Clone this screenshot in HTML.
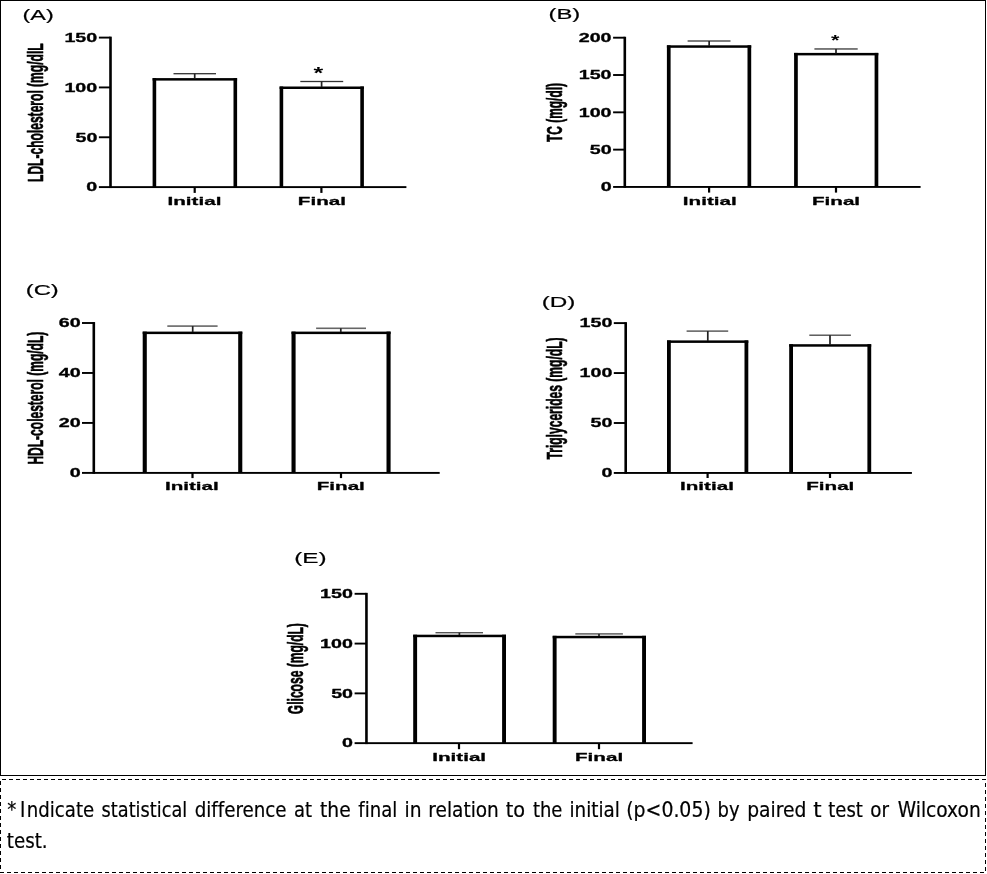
<!DOCTYPE html>
<html lang="en">
<head>
<meta charset="utf-8">
<title>Figure: lipid profile and glucose, initial vs final</title>
<style>
html,body{margin:0;padding:0;background:#fff;}
body{width:987px;height:874px;overflow:hidden;}
svg{display:block;filter:grayscale(1);}
text{fill:#000;}
.b{font-family:'Liberation Sans', sans-serif;font-weight:bold;stroke:#000;stroke-width:0.4px;vector-effect:non-scaling-stroke;stroke-linejoin:round;}
.yl{stroke-width:0.5px;}
.r{font-family:'Liberation Sans', sans-serif;font-weight:normal;stroke:#000;stroke-width:0.25px;vector-effect:non-scaling-stroke;}
.ast{stroke:none;}
.c{font-family:'DejaVu Sans Condensed', 'DejaVu Sans', 'Liberation Sans', sans-serif;font-weight:normal;font-variant-ligatures:none;stroke:#000;stroke-width:0.2px;vector-effect:non-scaling-stroke;}
</style>
</head>
<body>
<svg width="987" height="874" viewBox="0 0 987 874">
<defs><filter id="soft" x="0" y="0" width="987" height="776" filterUnits="userSpaceOnUse"><feGaussianBlur stdDeviation="0.35"/></filter></defs>
<rect x="0" y="0" width="987" height="874" fill="#fff"/>
<g filter="url(#soft)">
<g>
<rect x="152.6" y="78.1" width="3.6" height="109" fill="#000"/>
<rect x="233.5" y="78.1" width="3.6" height="109" fill="#000"/>
<rect x="152.6" y="78.1" width="84.5" height="2.5" fill="#000"/>
<rect x="279.6" y="86.5" width="3.6" height="100.6" fill="#000"/>
<rect x="360.3" y="86.5" width="3.6" height="100.6" fill="#000"/>
<rect x="279.6" y="86.5" width="84.3" height="2.5" fill="#000"/>
<rect x="173.5" y="73.05" width="42.5" height="1.3" fill="#333"/>
<rect x="193.85" y="73.7" width="1.7" height="4.8" fill="#222"/>
<rect x="300.3" y="80.85" width="42.9" height="1.3" fill="#333"/>
<rect x="320.75" y="81.5" width="1.7" height="5.5" fill="#222"/>
<rect x="109.2" y="36.65" width="2.6" height="151.4" fill="#000"/>
<rect x="110.5" y="186.15" width="295.9" height="1.9" fill="#000"/>
<rect x="98.9" y="36.65" width="11.6" height="1.9" fill="#000"/>
<text class="b" font-size="12.3" transform="translate(64.42 41.94) scale(1.6000 1)">150</text>
<rect x="98.9" y="86.48" width="11.6" height="1.9" fill="#000"/>
<text class="b" font-size="12.3" transform="translate(64.42 91.78) scale(1.6000 1)">100</text>
<rect x="98.9" y="136.32" width="11.6" height="1.9" fill="#000"/>
<text class="b" font-size="12.3" transform="translate(75.44 141.61) scale(1.6000 1)">50</text>
<rect x="98.9" y="186.15" width="11.6" height="1.9" fill="#000"/>
<text class="b" font-size="12.3" transform="translate(86.36 191.44) scale(1.6000 1)">0</text>
<rect x="193.6" y="187.1" width="2.2" height="5.8" fill="#000"/>
<rect x="320.3" y="187.1" width="2.2" height="5.8" fill="#000"/>
<text class="b" font-size="11.6" transform="translate(167.51 204.8) scale(1.7800 1)">Initial</text>
<text class="b" font-size="11.6" transform="translate(297.85 204.8) scale(1.7800 1)">Final</text>
<text class="r" font-size="14.12" transform="translate(22.5 19.74) scale(1.6567 1)">(A)</text>
<text class="b yl" font-size="12" transform="translate(43.33 181.98) rotate(-90) scale(1.0047 1.7730)">LDL-cholesterol (mg/dlL</text>
<text class="b ast" font-size="15.68" transform="translate(313.38 78.92) scale(1.5948 1)">*</text>
</g>
<g>
<rect x="666.9" y="45.3" width="3.7" height="141.65" fill="#000"/>
<rect x="747.5" y="45.3" width="3.7" height="141.65" fill="#000"/>
<rect x="666.9" y="45.3" width="84.3" height="2.5" fill="#000"/>
<rect x="794.1" y="52.9" width="3.7" height="134.05" fill="#000"/>
<rect x="874.6" y="52.9" width="3.7" height="134.05" fill="#000"/>
<rect x="794.1" y="52.9" width="84.2" height="2.5" fill="#000"/>
<rect x="687.6" y="40.1" width="42.9" height="1.8" fill="#707070"/>
<rect x="708.3" y="41" width="1.7" height="5" fill="#222"/>
<rect x="814.4" y="48.05" width="43.3" height="1.8" fill="#707070"/>
<rect x="835.15" y="48.95" width="1.7" height="4.55" fill="#222"/>
<rect x="623.5" y="36.75" width="2.6" height="151.15" fill="#000"/>
<rect x="624.8" y="186" width="295.8" height="1.9" fill="#000"/>
<rect x="613.1" y="36.75" width="11.7" height="1.9" fill="#000"/>
<text class="b" font-size="12.3" transform="translate(578.72 42.04) scale(1.6000 1)">200</text>
<rect x="613.1" y="74.06" width="11.7" height="1.9" fill="#000"/>
<text class="b" font-size="12.3" transform="translate(578.72 79.36) scale(1.6000 1)">150</text>
<rect x="613.1" y="111.38" width="11.7" height="1.9" fill="#000"/>
<text class="b" font-size="12.3" transform="translate(578.72 116.67) scale(1.6000 1)">100</text>
<rect x="613.1" y="148.69" width="11.7" height="1.9" fill="#000"/>
<text class="b" font-size="12.3" transform="translate(589.74 153.98) scale(1.6000 1)">50</text>
<rect x="613.1" y="186" width="11.7" height="1.9" fill="#000"/>
<text class="b" font-size="12.3" transform="translate(600.66 191.29) scale(1.6000 1)">0</text>
<rect x="708" y="186.95" width="2.2" height="5.65" fill="#000"/>
<rect x="834.9" y="186.95" width="2.2" height="5.65" fill="#000"/>
<text class="b" font-size="11.6" transform="translate(682.86 204.5) scale(1.7800 1)">Initial</text>
<text class="b" font-size="11.6" transform="translate(811.95 204.5) scale(1.7800 1)">Final</text>
<text class="r" font-size="14.22" transform="translate(548.47 18.51) scale(1.6791 1)">(B)</text>
<text class="b yl" font-size="12" transform="translate(562.07 142.02) rotate(-90) scale(0.9945 1.8706)">TC (mg/dl)</text>
<text class="b ast" font-size="13.78" transform="translate(830.99 45.41) scale(1.5655 1)">*</text>
</g>
<g>
<rect x="142.7" y="331.6" width="4.1" height="141.3" fill="#000"/>
<rect x="238.2" y="331.6" width="4.1" height="141.3" fill="#000"/>
<rect x="142.7" y="331.6" width="99.6" height="2.5" fill="#000"/>
<rect x="291.5" y="331.6" width="4.1" height="141.3" fill="#000"/>
<rect x="386.5" y="331.6" width="4.1" height="141.3" fill="#000"/>
<rect x="291.5" y="331.6" width="99.1" height="2.5" fill="#000"/>
<rect x="167.3" y="325.3" width="50.3" height="1.6" fill="#666"/>
<rect x="191.85" y="326.1" width="1.7" height="5.9" fill="#222"/>
<rect x="316.1" y="327.5" width="49.9" height="1.6" fill="#666"/>
<rect x="339.95" y="328.3" width="1.7" height="3.7" fill="#222"/>
<rect x="92.5" y="322.05" width="2.6" height="151.8" fill="#000"/>
<rect x="93.8" y="471.95" width="345.9" height="1.9" fill="#000"/>
<rect x="82" y="322.05" width="11.8" height="1.9" fill="#000"/>
<text class="b" font-size="12.3" transform="translate(58.74 327.34) scale(1.6000 1)">60</text>
<rect x="82" y="372.02" width="11.8" height="1.9" fill="#000"/>
<text class="b" font-size="12.3" transform="translate(58.74 377.31) scale(1.6000 1)">40</text>
<rect x="82" y="421.98" width="11.8" height="1.9" fill="#000"/>
<text class="b" font-size="12.3" transform="translate(58.74 427.28) scale(1.6000 1)">20</text>
<rect x="82" y="471.95" width="11.8" height="1.9" fill="#000"/>
<text class="b" font-size="12.3" transform="translate(69.66 477.24) scale(1.6000 1)">0</text>
<rect x="191.4" y="472.9" width="2.2" height="5.2" fill="#000"/>
<rect x="339.9" y="472.9" width="2.2" height="5.2" fill="#000"/>
<text class="b" font-size="11.6" transform="translate(164.91 490.3) scale(1.7800 1)">Initial</text>
<text class="b" font-size="11.6" transform="translate(316.7 490.3) scale(1.7800 1)">Final</text>
<text class="r" font-size="13.9" transform="translate(25.77 295.38) scale(1.7114 1)">(C)</text>
<text class="b yl" font-size="12" transform="translate(43.4 464.58) rotate(-90) scale(1.0024 1.7819)">HDL-colesterol (mg/dL)</text>
</g>
<g>
<rect x="667" y="340.4" width="3.8" height="132.55" fill="#000"/>
<rect x="744.5" y="340.4" width="3.8" height="132.55" fill="#000"/>
<rect x="667" y="340.4" width="81.3" height="2.5" fill="#000"/>
<rect x="789.2" y="344.2" width="3.8" height="128.75" fill="#000"/>
<rect x="867.4" y="344.2" width="3.8" height="128.75" fill="#000"/>
<rect x="789.2" y="344.2" width="82" height="2.5" fill="#000"/>
<rect x="686.6" y="330.45" width="41.6" height="1.3" fill="#444"/>
<rect x="706.95" y="331.1" width="1.7" height="9.9" fill="#222"/>
<rect x="809.3" y="334.55" width="41.6" height="1.3" fill="#444"/>
<rect x="829.15" y="335.2" width="1.7" height="9.8" fill="#222"/>
<rect x="624.4" y="322.15" width="2.6" height="151.75" fill="#000"/>
<rect x="625.7" y="472" width="286.2" height="1.9" fill="#000"/>
<rect x="613.8" y="322.15" width="11.9" height="1.9" fill="#000"/>
<text class="b" font-size="12.3" transform="translate(579.52 327.44) scale(1.6000 1)">150</text>
<rect x="613.8" y="372.1" width="11.9" height="1.9" fill="#000"/>
<text class="b" font-size="12.3" transform="translate(579.52 377.39) scale(1.6000 1)">100</text>
<rect x="613.8" y="422.05" width="11.9" height="1.9" fill="#000"/>
<text class="b" font-size="12.3" transform="translate(590.54 427.34) scale(1.6000 1)">50</text>
<rect x="613.8" y="472" width="11.9" height="1.9" fill="#000"/>
<text class="b" font-size="12.3" transform="translate(601.46 477.29) scale(1.6000 1)">0</text>
<rect x="706.5" y="472.95" width="2.2" height="5.05" fill="#000"/>
<rect x="828.9" y="472.95" width="2.2" height="5.05" fill="#000"/>
<text class="b" font-size="11.6" transform="translate(680.01 490.3) scale(1.7800 1)">Initial</text>
<text class="b" font-size="11.6" transform="translate(806.2 490.3) scale(1.7800 1)">Final</text>
<text class="r" font-size="14.12" transform="translate(541.64 306.54) scale(1.7190 1)">(D)</text>
<text class="b yl" font-size="12" transform="translate(562.32 459.52) rotate(-90) scale(1.0070 1.8528)">Triglycerides (mg/dL)</text>
</g>
<g>
<rect x="413.2" y="634.7" width="3.9" height="108.45" fill="#000"/>
<rect x="502.1" y="634.7" width="3.9" height="108.45" fill="#000"/>
<rect x="413.2" y="634.7" width="92.8" height="2.5" fill="#000"/>
<rect x="552.7" y="635.8" width="3.9" height="107.35" fill="#000"/>
<rect x="642.1" y="635.8" width="3.9" height="107.35" fill="#000"/>
<rect x="552.7" y="635.8" width="93.3" height="2.5" fill="#000"/>
<rect x="435.5" y="632" width="47.5" height="1.4" fill="#555"/>
<rect x="458.55" y="632.7" width="1.7" height="2.3" fill="#222"/>
<rect x="575.3" y="633.2" width="47.6" height="1.4" fill="#555"/>
<rect x="598.15" y="633.9" width="1.7" height="2.1" fill="#222"/>
<rect x="365.15" y="592.85" width="2.6" height="151.25" fill="#000"/>
<rect x="366.45" y="742.2" width="326.15" height="1.9" fill="#000"/>
<rect x="354.6" y="592.85" width="11.85" height="1.9" fill="#000"/>
<text class="b" font-size="12.3" transform="translate(320.12 598.14) scale(1.6000 1)">150</text>
<rect x="354.6" y="642.63" width="11.85" height="1.9" fill="#000"/>
<text class="b" font-size="12.3" transform="translate(320.12 647.93) scale(1.6000 1)">100</text>
<rect x="354.6" y="692.42" width="11.85" height="1.9" fill="#000"/>
<text class="b" font-size="12.3" transform="translate(331.14 697.71) scale(1.6000 1)">50</text>
<rect x="354.6" y="742.2" width="11.85" height="1.9" fill="#000"/>
<text class="b" font-size="12.3" transform="translate(342.06 747.49) scale(1.6000 1)">0</text>
<rect x="457.9" y="743.15" width="2.2" height="6.05" fill="#000"/>
<rect x="597.9" y="743.15" width="2.2" height="6.05" fill="#000"/>
<text class="b" font-size="11.6" transform="translate(432.21 761) scale(1.7800 1)">Initial</text>
<text class="b" font-size="11.6" transform="translate(575 761) scale(1.7800 1)">Final</text>
<text class="r" font-size="13.8" transform="translate(294.14 562.6) scale(1.7611 1)">(E)</text>
<text class="b yl" font-size="12" transform="translate(303.22 714.18) rotate(-90) scale(1.0047 1.8528)">Glicose (mg/dL)</text>
</g>
</g>
<g>
<text class="c" font-size="21" y="816.8"><tspan x="7.3" textLength="9.07" lengthAdjust="spacingAndGlyphs">*</tspan><tspan x="20.09" textLength="5.34" lengthAdjust="spacingAndGlyphs">I</tspan><tspan x="26.79" textLength="67.4" lengthAdjust="spacingAndGlyphs">ndicate</tspan> <tspan x="101.61" textLength="85.61" lengthAdjust="spacingAndGlyphs">statistical</tspan> <tspan x="194.69" textLength="91.89" lengthAdjust="spacingAndGlyphs">difference</tspan> <tspan x="293.9" textLength="18.08" lengthAdjust="spacingAndGlyphs">at</tspan> <tspan x="319.98" textLength="30.69" lengthAdjust="spacingAndGlyphs">the</tspan> <tspan x="358.3" textLength="38.97" lengthAdjust="spacingAndGlyphs">final</tspan> <tspan x="404.54" textLength="17.03" lengthAdjust="spacingAndGlyphs">in</tspan> <tspan x="428.35" textLength="70.51" lengthAdjust="spacingAndGlyphs">relation</tspan> <tspan x="505.66" textLength="19.36" lengthAdjust="spacingAndGlyphs">to</tspan> <tspan x="532.9" textLength="29.53" lengthAdjust="spacingAndGlyphs">the</tspan> <tspan x="569.47" textLength="50.45" lengthAdjust="spacingAndGlyphs">initial</tspan> <tspan x="626.23" textLength="84.54" lengthAdjust="spacingAndGlyphs">(p&lt;0.05)</tspan> <tspan x="717.6" textLength="22.07" lengthAdjust="spacingAndGlyphs">by</tspan> <tspan x="747.23" textLength="59.24" lengthAdjust="spacingAndGlyphs">paired</tspan> <tspan x="813.21" textLength="8.33" lengthAdjust="spacingAndGlyphs">t</tspan> <tspan x="828.3" textLength="34.55" lengthAdjust="spacingAndGlyphs">test</tspan> <tspan x="870.28" textLength="18.72" lengthAdjust="spacingAndGlyphs">or</tspan> <tspan x="897.78" textLength="82.95" lengthAdjust="spacingAndGlyphs">Wilcoxon</tspan></text>
<text class="c" font-size="21" y="848.2"><tspan x="6.79" textLength="40.8" lengthAdjust="spacingAndGlyphs">test.</tspan></text>
</g>
<path d="M0.5 0.5H985.5V775.5H0.5Z" fill="none" stroke="#000" stroke-width="1" shape-rendering="crispEdges"/>
<g stroke="#000" stroke-width="1" stroke-dasharray="4 3" shape-rendering="crispEdges" fill="none"><path d="M2 779.5H986"/><path d="M0 872.5H984"/><path d="M0.5 781V872"/><path d="M985.5 783V872"/></g>
</svg>
</body>
</html>
